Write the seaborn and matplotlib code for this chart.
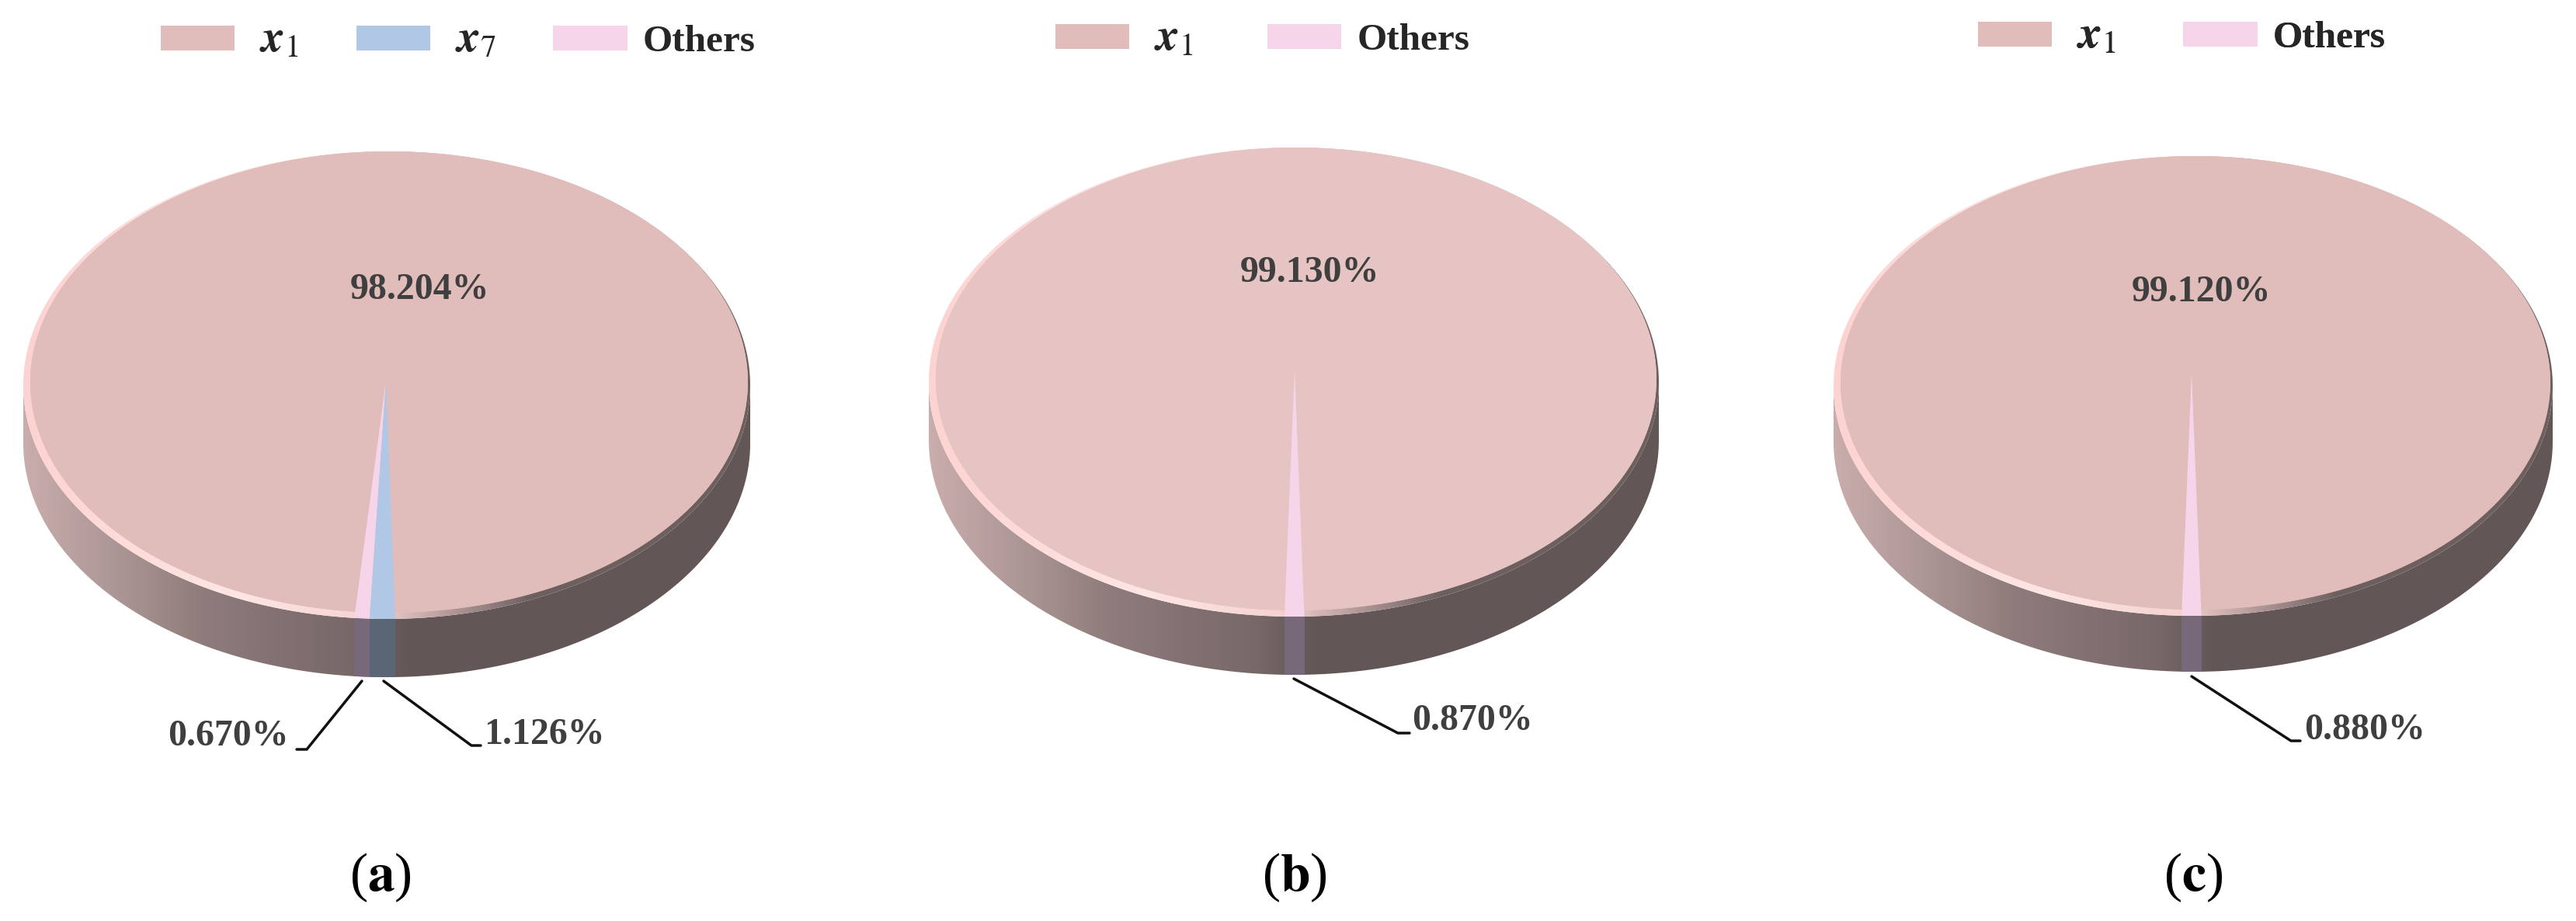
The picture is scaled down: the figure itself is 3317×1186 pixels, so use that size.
import numpy as np
import matplotlib
matplotlib.use("Agg")
import matplotlib.pyplot as plt
from matplotlib.colors import LinearSegmentedColormap
from matplotlib.patches import Patch, Polygon
from matplotlib.transforms import Affine2D
import seaborn as sns

# values per panel, small slices run left to right along the front of the pie
panels = ["a", "b", "c"]
main_values = [98.204, 99.130, 99.120]
others_values = [0.670, 0.870, 0.880]
x7_values = [1.126, 0.0, 0.0]

color_x1 = "#e0bdba"
color_x1_b = "#e6c4c3"
color_x7 = "#b1c7e6"
color_others = "#f6d5eb"
text_color = "#3f3f3f"

sns.set_theme(style="white")
plt.rcParams["font.family"] = ["Liberation Serif", "DejaVu Serif"]
plt.rcParams["mathtext.fontset"] = "stix"

W, H = 3317, 1186
fig = plt.figure(figsize=(W / 100, H / 100), dpi=100)
ax = fig.add_axes([0, 0, 1, 1])

# pixel geometry of each pie: centre, radii, rim height, slice apex, first slice angle
geom = [(498, 496, 468, 301, 75, 497, 490, 265.0),
        (1666, 492, 470, 302, 75, 1667, 476, 268.4),
        (2824, 497, 463, 296, 72, 2822, 481, 268.4)]
value_pos = [(540, 373), (1686, 351), (2834, 376)]

# rim shading from the reference, left edge to right edge
rim_cmap = LinearSegmentedColormap.from_list(
    "rim", [(0, "#c9adac"), (0.1, "#b39b9b"), (0.25, "#8f7b7b"), (0.45, "#786868"),
            (0.53, "#635656"), (1, "#635656")])
# edge of the top face: light on the near left, dark on the far right
bevel_cmap = LinearSegmentedColormap.from_list(
    "bevel", [(0, "#fdd3d1"), (0.3, "#fde6e4"), (0.48, "#f5d3d1"), (0.7, "#6e5f5f"), (1, "#6e5f5f")])


def ell(cx, cy, rx, ry, ang):
    return cx + rx * np.cos(ang), cy - ry * np.sin(ang)


for i, (cx, cy, rx, ry, h, apx, apy, start) in enumerate(geom):
    face = color_x1_b if i == 1 else color_x1
    others = others_values[i]
    x7 = x7_values[i]
    main = main_values[i]
    bottom = cy + ry

    # rim: gradient clipped to the lower half of the shifted ellipse
    t = np.linspace(np.pi, 2 * np.pi, 300)
    xb, yb = ell(cx, cy + h, rx, ry, t)
    xt, yt = ell(cx, cy, rx, ry, t[::-1])
    rim = Polygon(np.column_stack([np.r_[xb, xt], np.r_[yb, yt]]), closed=True,
                  fc="none", ec="none")
    ax.add_patch(rim)
    im = ax.imshow(np.linspace(0, 1, 256)[None, :], cmap=rim_cmap, aspect="auto",
                   extent=(cx - rx, cx + rx, cy + ry + h, cy - 5), zorder=1)
    im.set_clip_path(rim)

    # slices carried down over the rim
    angle = start
    for val, col in [(others, "#77697a"), (x7, "#5a6575")]:
        if val > 0:
            x0 = apx + rx * np.cos(np.radians(angle))
            x1 = apx + rx * np.cos(np.radians(angle + val * 3.6))
            ax.axvspan(x0, x1, color=col, lw=0, zorder=2).set_clip_path(rim)
        angle += val * 3.6

    # bevel under the top face
    outer = Polygon(np.column_stack(ell(cx, cy, rx, ry, np.linspace(0, 2 * np.pi, 400))),
                    closed=True, fc="none", ec="none")
    ax.add_patch(outer)
    bev = ax.imshow(np.linspace(0, 1, 256)[None, :], cmap=bevel_cmap, aspect="auto",
                    extent=(cx - rx, cx + rx, cy + ry, cy - ry), zorder=2.5)
    bev.set_clip_path(outer)

    # top face, offset so the bevel shows as crescents
    inner = Polygon(np.column_stack(ell(cx + 3, cy - 4, rx - 6, ry - 4, np.linspace(0, 2 * np.pi, 400))),
                    closed=True, fc=face, ec="none", zorder=2.8)
    ax.add_patch(inner)

    # slices go through pie(), then are squashed into the ellipse about their apex
    vals = [main, others, x7] if x7 > 0 else [main, others]
    cols = [face, color_others, color_x7][:len(vals)]
    wedges, _ = ax.pie(vals, colors=cols, startangle=start + (others + x7) * 3.6,
                       radius=1, center=(0, 0))
    tr = Affine2D().scale(rx, -(bottom - apy)).translate(apx, apy) + ax.transData
    for k, w in enumerate(wedges):
        w.set_transform(tr)
        w.set_zorder(3)
        w.set_linewidth(0)
        w.set_clip_on(True)  # pie turns clipping off
        w.set_clip_path(inner if k == 0 else outer)

    vx, vy = value_pos[i]
    ax.text(vx, vy, f"{main:.3f}%", ha="center", va="center", fontsize=34.5,
            fontweight="bold", color=text_color, zorder=5)

# callouts
lbl = dict(fontsize=34.5, fontweight="bold", color=text_color, va="center")
line = dict(color="#111111", lw=2.5, zorder=5)
ax.plot([466, 395, 382], [877, 965, 965], **line)
ax.text(216, 948, f"{others_values[0]:.3f}%", ha="left", **lbl)
ax.plot([494, 607, 619], [877, 960, 960], **line)
ax.text(623, 946, f"{x7_values[0]:.3f}%", ha="left", **lbl)
ax.plot([1666, 1800, 1815], [874, 944, 944], **line)
ax.text(1818, 928, f"{others_values[1]:.3f}%", ha="left", **lbl)
ax.plot([2822, 2950, 2962], [871, 954, 954], **line)
ax.text(2967, 940, f"{others_values[2]:.3f}%", ha="left", **lbl)

# legends, one for each panel
label_x1 = r"$\ \mathbfit{x}_{1}$"
label_x7 = r"$\ \mathbfit{x}_{7}$"
legend_items = [
    [(label_x1, color_x1), (label_x7, color_x7), ("Others", color_others)],
    [(label_x1, color_x1), ("Others", color_others)],
    [(label_x1, color_x1), ("Others", color_others)],
]
legend_x = [207, 1359, 2547]
legend_y = [52, 50, 47]
legend_gap = [1.5, 1.94, 1.76]
for items, lx, ly, gap in zip(legend_items, legend_x, legend_y, legend_gap):
    handles = [Patch(fc=c, ec="none", label=s) for s, c in items]
    leg = ax.legend(handles=handles, loc="center left", bbox_to_anchor=(lx, ly),
                    bbox_transform=ax.transData, ncol=len(items), frameon=False,
                    prop=dict(family="Liberation Serif", weight="bold", size=35.5),
                    handlelength=1.93, handleheight=0.63, handletextpad=0.41,
                    columnspacing=gap, borderpad=0, borderaxespad=0)
    for txt in leg.get_texts():
        if txt.get_text() != "Others":
            txt.set_fontsize(42)
    ax.add_artist(leg)

# panel letters
for x, letter in zip([490, 1667, 2824], panels):
    ax.text(x, 1130, r"($\mathbf{%s}$)" % letter, ha="center", va="center",
            fontsize=50, color="black")

ax.set_aspect("auto")
ax.set_xlim(0, W)
ax.set_ylim(H, 0)
ax.axis("off")
fig.savefig("out.png", dpi=100, facecolor="white")
